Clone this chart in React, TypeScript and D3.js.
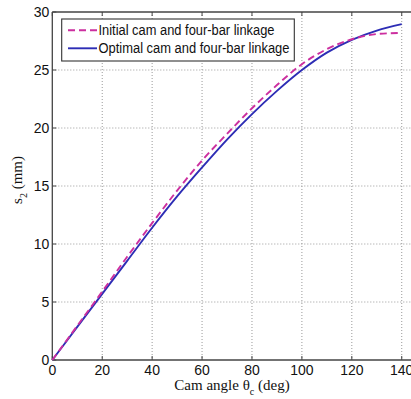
import { useEffect, useRef } from 'react'
import * as d3 from 'd3'

// cam angle (deg)
const angles = [0, 10, 20, 30, 40, 50, 60, 70, 80, 90, 100, 110, 120, 130, 140]
// follower displacement s2 (mm)
const initialS2 = [0, 2.95, 5.9, 8.9, 11.8, 14.6, 17.2, 19.5, 21.7, 23.7, 25.5, 26.8, 27.65, 28.1, 28.2]
const optimalS2 = [0, 2.85, 5.7, 8.55, 11.4, 14.1, 16.6, 19.0, 21.2, 23.2, 25.0, 26.5, 27.6, 28.4, 28.95]

const xTicks = [0, 20, 40, 60, 80, 100, 120, 140]
const yTicks = [0, 5, 10, 15, 20, 25, 30]

const seriesNames = ['Initial cam and four-bar linkage', 'Optimal cam and four-bar linkage']

export default function App() {
  const svgRef = useRef<SVGSVGElement>(null)

  useEffect(() => {
    if (!svgRef.current) return
    const svg = d3.select(svgRef.current)
    svg.selectAll('*').remove()

    const width = 411
    const height = 399
    const left = 52.3
    const top = 12
    const bottom = 360

    const x = d3.scaleLinear().domain([0, 150]).range([left, left + 150 * 2.496])
    const y = d3.scaleLinear().domain([0, 30]).range([bottom, top])
    const right = x(150)

    svg.attr('width', width).attr('height', height)
    svg.append('rect').attr('width', width).attr('height', height).attr('fill', 'white')

    // Grid lines
    svg.selectAll('.vgrid')
      .data(xTicks.filter(d => d > 0))
      .join('line')
      .attr('x1', d => x(d)).attr('x2', d => x(d))
      .attr('y1', top).attr('y2', bottom)
      .attr('stroke', '#9a9a9a').attr('stroke-width', 1)
      .attr('stroke-dasharray', '1,2')

    svg.selectAll('.hgrid')
      .data(yTicks.filter(d => d > 0 && d < 30))
      .join('line')
      .attr('x1', left).attr('x2', right)
      .attr('y1', d => y(d)).attr('y2', d => y(d))
      .attr('stroke', '#9a9a9a').attr('stroke-width', 1)
      .attr('stroke-dasharray', '1,2')

    // Box
    svg.append('line').attr('x1', left).attr('x2', left).attr('y1', top).attr('y2', bottom)
      .attr('stroke', '#444').attr('stroke-width', 1.3)
    svg.append('line').attr('x1', left).attr('x2', right).attr('y1', bottom).attr('y2', bottom)
      .attr('stroke', '#444').attr('stroke-width', 1.3)
    svg.append('line').attr('x1', left).attr('x2', right).attr('y1', top).attr('y2', top)
      .attr('stroke', '#444').attr('stroke-width', 1.3)

    // Ticks (inward)
    xTicks.forEach(t => {
      svg.append('line').attr('x1', x(t)).attr('x2', x(t)).attr('y1', bottom).attr('y2', bottom - 4)
        .attr('stroke', '#444')
      svg.append('line').attr('x1', x(t)).attr('x2', x(t)).attr('y1', top).attr('y2', top + 4)
        .attr('stroke', '#444')
    })
    yTicks.forEach(t => {
      svg.append('line').attr('x1', left).attr('x2', left + 4).attr('y1', y(t)).attr('y2', y(t))
        .attr('stroke', '#444')
    })

    // Tick labels
    svg.selectAll('.xlab')
      .data(xTicks)
      .join('text')
      .attr('x', d => x(d)).attr('y', bottom + 15)
      .attr('text-anchor', 'middle')
      .style('font-family', 'Liberation Sans, Arial, sans-serif').style('font-size', '14px')
      .attr('fill', '#111')
      .text(d => String(d))

    svg.selectAll('.ylab')
      .data(yTicks)
      .join('text')
      .attr('x', left - 3).attr('y', d => y(d) + 5)
      .attr('text-anchor', 'end')
      .style('font-family', 'Liberation Sans, Arial, sans-serif').style('font-size', '14px')
      .attr('fill', '#111')
      .text(d => String(d))

    // Axis labels
    const xl = svg.append('text')
      .attr('x', 232).attr('y', 390)
      .attr('text-anchor', 'middle')
      .style('font-family', 'Liberation Serif, Times New Roman, serif').style('font-size', '15px')
      .attr('fill', '#111')
    xl.append('tspan').text('Cam angle θ')
    xl.append('tspan').attr('dy', 5).style('font-size', '10px').text('c')
    xl.append('tspan').attr('dy', -5).text(' (deg)')

    const yl = svg.append('text')
      .attr('transform', `translate(22,${(top + bottom) / 2 - 6}) rotate(-90)`)
      .attr('text-anchor', 'middle')
      .style('font-family', 'Liberation Serif, Times New Roman, serif').style('font-size', '15px')
      .attr('fill', '#111')
    yl.append('tspan').text('s')
    yl.append('tspan').attr('dy', 5).style('font-size', '10px').text('2')
    yl.append('tspan').attr('dy', -5).text(' (mm)')

    // Lines
    const line = d3.line<number>()
      .x((_, i) => x(angles[i]))
      .y(d => y(d))
      .curve(d3.curveMonotoneX)

    svg.append('path')
      .datum(optimalS2)
      .attr('fill', 'none')
      .attr('stroke', '#2d2db5')
      .attr('stroke-width', 1.9)
      .attr('d', line)

    svg.append('path')
      .datum(initialS2)
      .attr('fill', 'none')
      .attr('stroke', '#cc2f9f')
      .attr('stroke-width', 1.9)
      .attr('stroke-dasharray', '7,4')
      .attr('d', line)

    // Legend
    const lg = svg.append('g')
    lg.append('rect')
      .attr('x', 61.7).attr('y', 19).attr('width', 232.6).attr('height', 42)
      .attr('fill', 'white').attr('stroke', '#333').attr('stroke-width', 1.1)
    const legendRows = [
      { name: seriesNames[0], color: '#cc2f9f', dash: '7,4', yy: 30.3, len: 176 },
      { name: seriesNames[1], color: '#2d2db5', dash: null, yy: 48.3, len: 191 },
    ]
    legendRows.forEach(r => {
      lg.append('line')
        .attr('x1', 68).attr('x2', 97).attr('y1', r.yy).attr('y2', r.yy)
        .attr('stroke', r.color).attr('stroke-width', 1.9)
        .attr('stroke-dasharray', r.dash)
      lg.append('text')
        .attr('x', 98.5).attr('y', r.yy + 5)
        .style('font-family', 'Liberation Sans, Arial, sans-serif').style('font-size', '14px')
        .attr('fill', '#111')
        .attr('textLength', r.len)
        .attr('lengthAdjust', 'spacingAndGlyphs')
        .text(r.name)
    })
  }, [])

  return (
    <div style={{ position: 'absolute', left: 0, top: 0 }}>
      <svg ref={svgRef} style={{ display: 'block' }} />
    </div>
  )
}
